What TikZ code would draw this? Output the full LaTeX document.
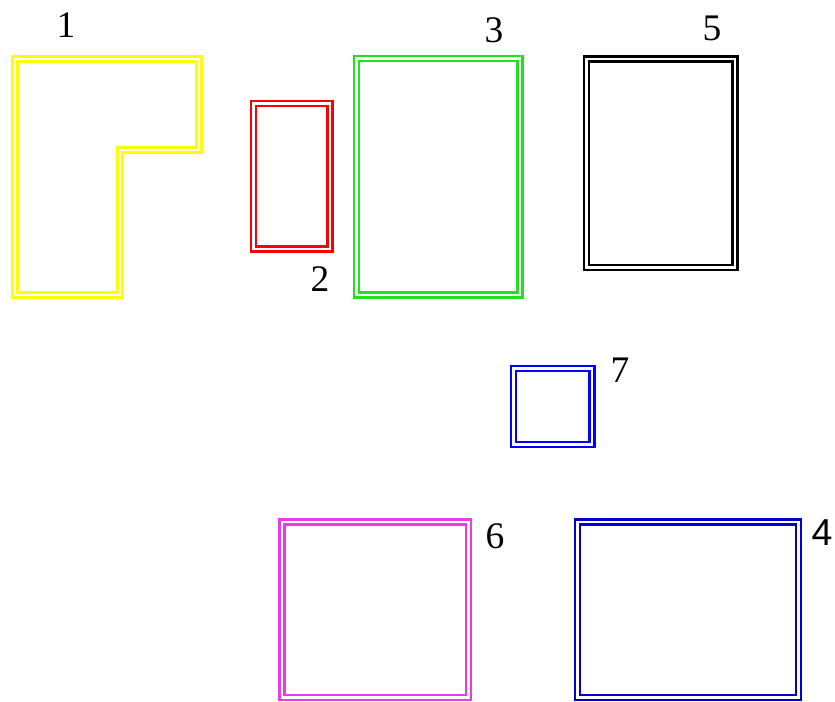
\documentclass[tikz,border=0pt]{standalone}
\usepackage{fontspec}
\setmainfont{Liberation Serif}
\newfontfamily\numsans{Liberation Sans}
\definecolor{wallyellow}{HTML}{FFFF00}
\definecolor{wallred}{HTML}{FF0000}
\definecolor{wallgreen}{HTML}{22E022}
\definecolor{wallblack}{HTML}{000000}
\definecolor{wallblue}{HTML}{0000FF}
\definecolor{walldeep}{HTML}{0000D0}
\definecolor{wallmagenta}{HTML}{E83CE8}

\begin{document}
\begin{tikzpicture}[
  x=0.03cm, y=-0.03cm,
  wall/.style={double=white, line width=2.1pt, double distance=1.9pt, line join=miter},
  roomno/.style={font=\fontsize{32}{32}\selectfont, inner sep=0pt},
]
\useasboundingbox (0,0) rectangle (835,702);

% ---- room outlines ----
\draw[wall, wallyellow] (15,59) -- (199,59) -- (199,150) -- (120,150) -- (120,295) -- (15,295) -- cycle;
\draw[wall, wallred] (253.5,103.5) rectangle (330,249);
\draw[wall, wallgreen] (356.5,58.5) rectangle (520,295);
\draw[wall, wallblack] (586.5,59) rectangle (735,267.5);
\draw[wall, wallblue] (513.5,368.5) rectangle (592,444.5);
\draw[wall, wallmagenta] (282,522) rectangle (468.5,697.5);
\draw[wall, walldeep] (577.5,522) rectangle (798.5,697.5);

% ---- room numbers ----
\node[roomno] (n1) at (66,25) {1};
\node[roomno] (n2) at (320,279) {2};
\node[roomno] (n3) at (494,30) {3};
\node[roomno] (n5) at (712,28) {5};
\node[roomno] (n7) at (620,370) {7};
\node[roomno] (n6) at (495,536) {6};
\node[roomno, font=\numsans\fontsize{32}{32}\selectfont] (n4) at (822,533) {4};

\end{tikzpicture}
\end{document}
